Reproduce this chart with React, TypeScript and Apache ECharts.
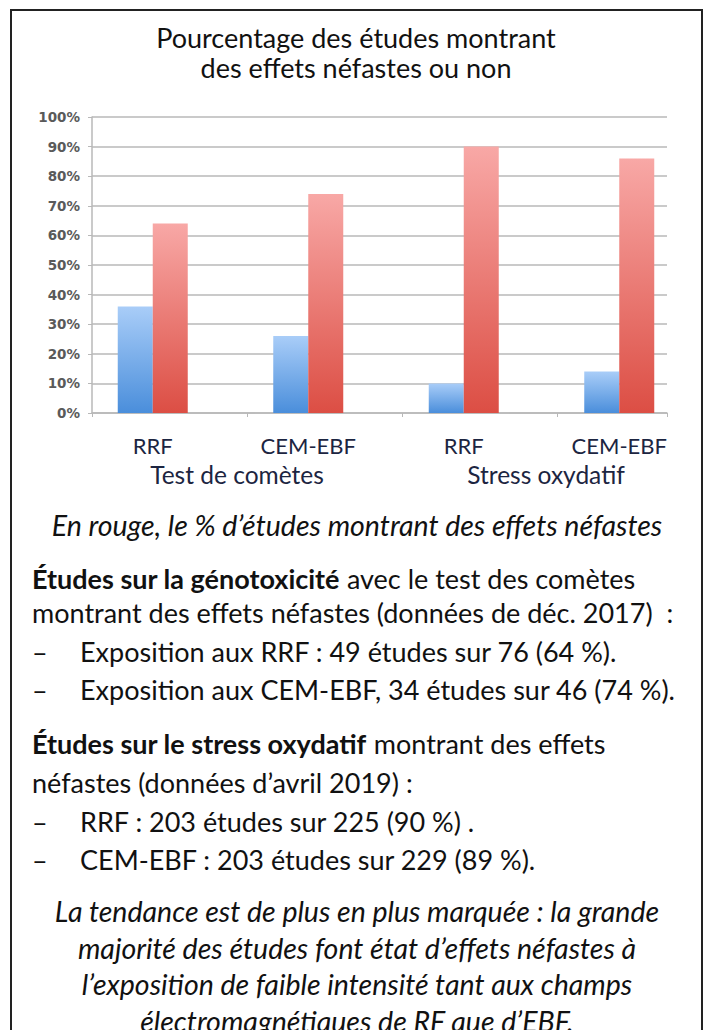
import React, { useEffect, useRef } from "react";
import * as echarts from "echarts";

const categories = ["RRF", "CEM-EBF", "RRF", "CEM-EBF"];
const groupLabels = ["Test de comètes", "Stress oxydatif"];
const notHarmful = [36, 26, 10, 14];
const harmful = [64, 74, 90, 86];
const titleLines = ["Pourcentage des études montrant", "des effets néfastes ou non"];
const caption = "En rouge, le % d’études montrant des effets néfastes";
const genoHead = ["Études sur la génotoxicité", " avec le test des comètes"];
const genoLine2 = "montrant des effets néfastes (données de déc. 2017)  :";
const genoItems = [
  "Exposition aux RRF : 49 études sur 76 (64 %).",
  "Exposition aux CEM-EBF, 34 études sur 46 (74 %).",
];
const stressHead = ["Études sur le stress oxydatif", " montrant des effets"];
const stressLine2 = "néfastes (données d’avril 2019) :";
const stressItems = [
  "RRF : 203 études sur 225 (90 %) .",
  "CEM-EBF : 203 études sur 229 (89 %).",
];
const conclusion = [
  "La tendance est de plus en plus marquée : la grande",
  "majorité des études font état d’effets néfastes à",
  "l’exposition de faible intensité tant aux champs",
  "électromagnétiques de RF que d’EBF.",
];

const FONT = "Lato";
const BODY = 27;
const ITALIC = 28.5;

export default function App() {
  const ref = useRef<HTMLDivElement>(null);
  useEffect(() => {
    document.body.style.margin = "0";
    const chart = echarts.init(ref.current!, null, { renderer: "svg" });
    const txt = (x: number, y: number, text: string, extra: any = {}) => ({
      type: "text",
      x,
      y,
      z: 10,
      style: {
        text,
        fontFamily: FONT,
        fontSize: BODY,
        fill: "#111",
        align: "left",
        verticalAlign: "middle",
        ...extra,
      },
    });
    const richHead = (x: number, y: number, parts: string[]) => ({
      type: "text",
      x,
      y,
      z: 10,
      style: {
        text: `{b|${parts[0]}}{r|${parts[1]}}`,
        fontFamily: FONT,
        fontSize: BODY,
        fill: "#111",
        align: "left",
        verticalAlign: "middle",
        rich: {
          b: { fontFamily: FONT, fontSize: BODY, fontWeight: "bold", fill: "#111" },
          r: { fontFamily: FONT, fontSize: BODY, fill: "#111" },
        },
      },
    });
    const graphics: any[] = [
      {
        type: "rect",
        shape: { x: 11, y: 10, width: 691, height: 1040 },
        style: { fill: "none", stroke: "#222", lineWidth: 2 },
        z: 1,
      },
      txt(356, 37, titleLines[0], { align: "center", fontSize: 27 }),
      txt(356, 67, titleLines[1], { align: "center", fontSize: 27 }),
      txt(237, 474, groupLabels[0], { align: "center", fontSize: 24.5, fill: "#1c2541" }),
      txt(546, 474, groupLabels[1], { align: "center", fontSize: 24.5, fill: "#1c2541" }),
      txt(357, 525, caption, { align: "center", fontStyle: "italic", fontSize: ITALIC }),
      richHead(32, 578, genoHead),
      txt(32, 612, genoLine2),
      txt(32, 651, "–"),
      txt(80, 651, genoItems[0]),
      txt(32, 689, "–"),
      txt(80, 689, genoItems[1]),
      richHead(32, 743, stressHead),
      txt(32, 782, stressLine2),
      txt(32, 821, "–"),
      txt(80, 821, stressItems[0]),
      txt(32, 859, "–"),
      txt(80, 859, stressItems[1]),
      ...conclusion.map((l, i) =>
        txt(357, 911 + i * 36.5, l, { align: "center", fontStyle: "italic", fontSize: ITALIC })
      ),
    ];
    const grad = (top: string, bottom: string) =>
      new echarts.graphic.LinearGradient(0, 0, 0, 1, [
        { offset: 0, color: top },
        { offset: 1, color: bottom },
      ]);
    chart.setOption({
      animation: false,
      backgroundColor: "#fff",
      grid: [
        { left: 92, top: 117, width: 575, height: 296 },
        { left: 75, top: 117, width: 622, height: 296 },
      ],
      xAxis: [
        {
          gridIndex: 0,
          type: "value",
          min: 0,
          max: 575 / 155,
          interval: 1,
          axisLine: { show: true, lineStyle: { color: "#b8b8b8", width: 1.5 } },
          axisTick: { show: true, length: 4, lineStyle: { color: "#b8b8b8" } },
          axisLabel: { show: false },
          splitLine: { show: false },
        },
        {
          gridIndex: 1,
          type: "category",
          data: categories,
          axisLine: { show: false },
          axisTick: { show: false },
          axisLabel: {
            margin: 21,
            fontFamily: FONT,
            fontSize: 22,
            color: "#1c2541",
          },
        },
      ],
      yAxis: [
        {
          gridIndex: 0,
          type: "value",
          min: 0,
          max: 100,
          interval: 10,
          axisLine: { show: true, lineStyle: { color: "#b8b8b8", width: 1.5 } },
          axisTick: { show: true, length: 4, lineStyle: { color: "#b8b8b8" } },
          axisLabel: {
            formatter: "{value}%",
            margin: 12,
            fontFamily: "DejaVu Sans",
            fontWeight: "bold",
            fontSize: 13.5,
            color: "#5a5a5a",
          },
          splitLine: { show: true, lineStyle: { color: "#b8b8b8", width: 1.5 } },
        },
        {
          gridIndex: 1,
          type: "value",
          min: 0,
          max: 100,
          show: false,
        },
      ],
      series: [
        {
          type: "bar",
          name: "Sans effets",
          xAxisIndex: 1,
          yAxisIndex: 1,
          data: notHarmful,
          barWidth: 35,
          barGap: "0%",
          itemStyle: { color: grad("#a9cdf8", "#4a8edb") },
          z: 3,
        },
        {
          type: "bar",
          name: "Effets néfastes",
          xAxisIndex: 1,
          yAxisIndex: 1,
          data: harmful,
          barWidth: 35,
          barGap: "0%",
          itemStyle: { color: grad("#f8a8a6", "#dc4e44") },
          z: 3,
        },
      ],
      graphic: graphics,
    });
    return () => chart.dispose();
  }, []);
  return <div ref={ref} style={{ width: 707, height: 1030 }} />;
}
